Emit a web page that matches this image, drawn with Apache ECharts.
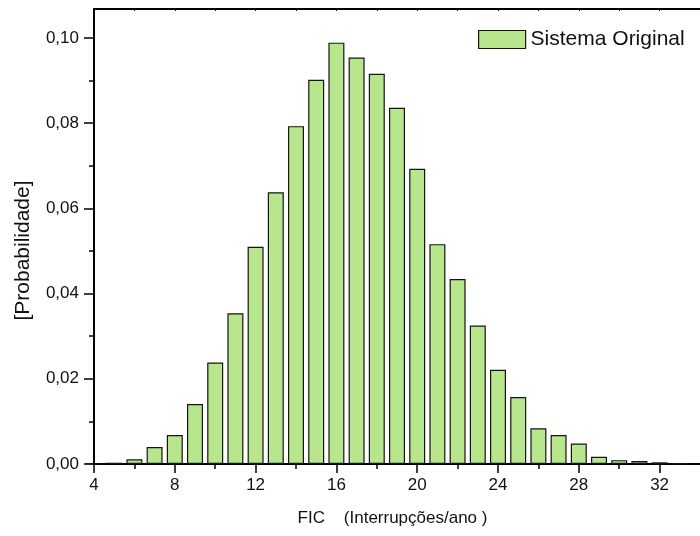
<!DOCTYPE html>
<html>
<head>
<meta charset="utf-8">
<script src="https://cdn.jsdelivr.net/npm/echarts@6/dist/echarts.min.js"></script>
<style>
html,body{margin:0;padding:0;background:#fff;}
#chart{width:700px;height:536px;}
</style>
</head>
<body>
<div id="chart"></div>
<script>
// FIC values (interruptions/year) for each bar
const ficValues = [4,5,6,7,8,9,10,11,12,13,14,15,16,17,18,19,20,21,22,23,24,25,26,27,28,29,30,31,32,33];
// Probability of each FIC value
const probValues = [0.00005,0.0003,0.0011,0.0040,0.0068,0.0141,0.0238,0.0354,0.0510,0.0638,0.0793,0.0902,0.0989,0.0954,0.0916,0.0836,0.0693,0.0516,0.0434,0.0325,0.0221,0.0157,0.0084,0.0068,0.0048,0.0017,0.0009,0.0007,0.0004,0.0002];
// tick values
const xTickValues = [4,8,12,16,20,24,28,32];
const xMinorTickValues = [6,10,14,18,22,26,30];
const xTopTickValues = [6,8,10,12,14,16,18,20,22,24,26,28,30,32];
const yTickValues = [0,0.02,0.04,0.06,0.08,0.10];
const yMinorTickValues = [0.01,0.03,0.05,0.07,0.09];
const seriesName = 'Sistema Original';
const xName = 'FIC    (Interrupções/ano )';
const yName = '[Probabilidade]';

const X_MIN = 4, X_MAX = 34, Y_MIN = 0, Y_MAX = 0.1068;
const FONT = '"Liberation Sans", Arial, sans-serif';
const TXT = '#111';
const FILL = '#b7e68c', EDGE = '#151515';

const chart = echarts.init(document.getElementById('chart'), null, {renderer: 'canvas'});
const lineStyle = {color: '#000', width: 2};
chart.setOption({
  animation: false,
  backgroundColor: '#fff',
  textStyle: {fontFamily: FONT},
  grid: {left: 94, top: 9, right: -6, bottom: 72, containLabel: false},
  legend: {
    data: [seriesName],
    left: 478, top: 29, padding: 0,
    icon: 'rect', itemWidth: 47, itemHeight: 18,
    itemStyle: {color: FILL, borderColor: EDGE, borderWidth: 1.2},
    textStyle: {fontSize: 21, color: TXT, fontFamily: FONT}
  },
  xAxis: [
    {
      type: 'value', min: X_MIN, max: X_MAX, position: 'bottom',
      splitLine: {show: false},
      axisLine: {show: true, onZero: false, lineStyle: lineStyle},
      axisTick: {show: true, inside: false, length: 9, lineStyle: {color: '#000', width: 1.5}, customValues: xTickValues},
      axisLabel: {show: true, margin: 13, fontSize: 17, color: TXT, fontFamily: FONT, customValues: xTickValues,
        formatter: v => String(v)},
      name: xName, nameLocation: 'middle', nameGap: 46,
      nameTextStyle: {fontSize: 17, color: TXT, fontFamily: FONT, padding: [0, 9, 0, 0]}
    },
    {
      type: 'value', min: X_MIN, max: X_MAX, position: 'bottom',
      splitLine: {show: false},
      axisLine: {show: false, onZero: false},
      axisTick: {show: true, inside: false, length: 5, lineStyle: {color: '#000', width: 1.5}, customValues: xMinorTickValues},
      axisLabel: {show: false}
    },
    {
      type: 'value', min: X_MIN, max: X_MAX, position: 'top',
      splitLine: {show: false},
      axisLine: {show: true, onZero: false, lineStyle: lineStyle},
      axisTick: {show: true, inside: true, length: 2, lineStyle: {color: '#000', width: 1}, customValues: xTopTickValues},
      axisLabel: {show: false}
    }
  ],
  yAxis: [
    {
      type: 'value', min: Y_MIN, max: Y_MAX, position: 'left',
      splitLine: {show: false},
      axisLine: {show: true, onZero: false, lineStyle: lineStyle},
      axisTick: {show: true, inside: false, length: 10, lineStyle: {color: '#000', width: 1.5}, customValues: yTickValues},
      axisLabel: {show: true, margin: 15, fontSize: 17, color: TXT, fontFamily: FONT, customValues: yTickValues,
        formatter: v => v.toFixed(2).replace('.', ',')},
      name: yName, nameLocation: 'middle', nameGap: 60, nameRotate: 90,
      nameTextStyle: {fontSize: 21, color: TXT, fontFamily: FONT, padding: [0, 28, 0, 0]}
    },
    {
      type: 'value', min: Y_MIN, max: Y_MAX, position: 'left',
      splitLine: {show: false},
      axisLine: {show: false, onZero: false},
      axisTick: {show: true, inside: false, length: 5, lineStyle: {color: '#000', width: 1.5}, customValues: yMinorTickValues},
      axisLabel: {show: false}
    }
  ],
  series: [{
    name: seriesName,
    type: 'bar',
    xAxisIndex: 0, yAxisIndex: 0,
    barWidth: 16,
    clip: true,
    data: ficValues.map((x, i) => [x, probValues[i]]),
    itemStyle: {color: FILL, borderColor: EDGE, borderWidth: 1.2}
  }]
});
</script>
</body>
</html>
